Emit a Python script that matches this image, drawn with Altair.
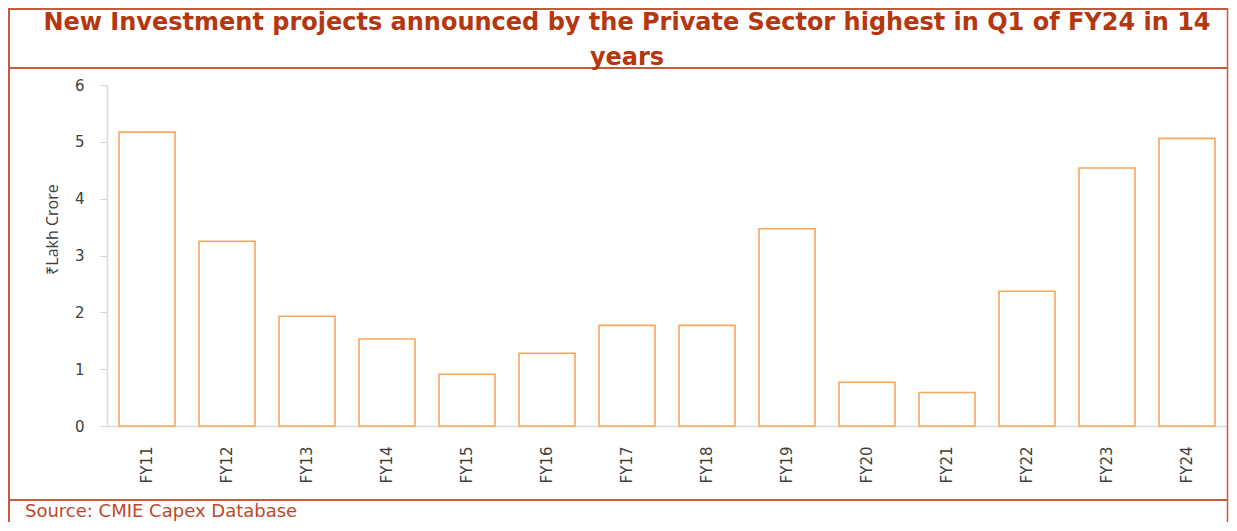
import altair as alt
import pandas as pd

years = ["FY11", "FY12", "FY13", "FY14", "FY15", "FY16", "FY17",
         "FY18", "FY19", "FY20", "FY21", "FY22", "FY23", "FY24"]
values = [5.17, 3.25, 1.93, 1.53, 0.91, 1.28, 1.77,
          1.77, 3.47, 0.77, 0.59, 2.37, 4.54, 5.06]

title_line1 = "New Investment projects announced by the Private Sector highest in Q1 of FY24 in 14"
title_line2 = "years"
source_text = "Source: CMIE Capex Database"
y_title = "₹Lakh Crore"

df = pd.DataFrame({"year": years, "value": values})

BORDER = "#C65A3C"
TITLE_C = "#B5370F"
FONT = "DejaVu Sans"

bars = alt.Chart(df).mark_bar(
    fill="white", stroke="#F7A65B", strokeWidth=1.6
).encode(
    x=alt.X("year:N", sort=years,
            scale=alt.Scale(paddingInner=0.3, paddingOuter=0.15),
            axis=alt.Axis(title=None, labelAngle=270, ticks=False, tickSize=0,
                          labelPadding=20, labelFontSize=15, labelColor="#404040",
                          labelFont=FONT, domainColor="#D9D9D9", domainWidth=1.5)),
    y=alt.Y("value:Q", scale=alt.Scale(domain=[0, 6], nice=False),
            axis=alt.Axis(title=y_title, values=[0, 1, 2, 3, 4, 5, 6], grid=False,
                          tickSize=8, tickColor="#D9D9D9", domainColor="#D9D9D9",
                          domainWidth=1.5, labelPadding=15, labelFontSize=15,
                          labelColor="#404040", labelFont=FONT,
                          titleFont="Open Sans", titleFontSize=16, titleFontWeight="normal",
                          titleColor="#404040", titleAngle=270, titleX=-55, titleY=144,
                          titleAlign="center", titleBaseline="middle")),
)

one = alt.Data(values=[{}])

def hrule(y, x1, x2, w=2):
    return alt.Chart(one).mark_rule(color=BORDER, strokeWidth=w).encode(
        x=alt.value(x1), x2=alt.value(x2), y=alt.value(y))

def vrule(x, y1, y2, w=2):
    return alt.Chart(one).mark_rule(color=BORDER, strokeWidth=w).encode(
        x=alt.value(x), y=alt.value(y1), y2=alt.value(y2))

def txt(s, x, y, size, color, weight="normal", align="center"):
    return alt.Chart(one).mark_text(
        text=s, font=FONT, fontSize=size, fontWeight=weight, color=color,
        align=align, baseline="alphabetic"
    ).encode(x=alt.value(x), y=alt.value(y))

layers = [
    bars,
    hrule(-76, -99, 1121),
    hrule(-17, -99, 1121),
    hrule(415, -99, 1121),
    vrule(-98, -77, 440),
    vrule(1120.5, -77, 440, 1.5),
    txt(title_line1, 520, -55, 24, TITLE_C, "bold"),
    txt(title_line2, 520, -20, 24, TITLE_C, "bold"),
    txt(source_text, -82, 432, 18, "#C0482A", "normal", "left"),
]

chart = alt.layer(*layers).properties(
    width=1120, height=341,
    background="white",
    autosize=alt.AutoSizeParams(type="none"),
    padding={"left": 99, "top": 77, "right": 2, "bottom": 96},
).configure_view(stroke="transparent", strokeWidth=0)

chart.save("out.html", embed_options={"renderer": "svg", "actions": False})
